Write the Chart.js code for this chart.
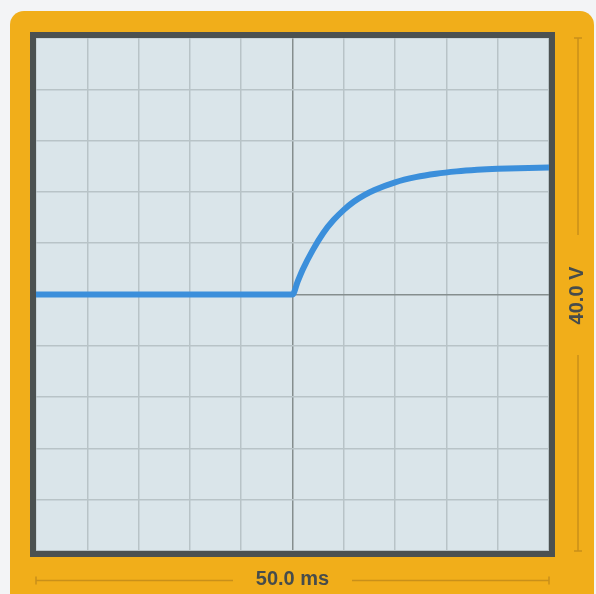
<!DOCTYPE html>
<html>
<head>
<meta charset="utf-8">
<script src="https://cdn.jsdelivr.net/npm/chart.js@4"></script>
<style>
  html, body { margin: 0; padding: 0; background: #f3f4f6; }
  #wrap { position: relative; width: 596px; height: 594px; overflow: hidden; }
  canvas { display: block; }
</style>
</head>
<body>
<div id="wrap"><canvas id="c" width="596" height="594"></canvas></div>
<script>
// Time (ms) and voltage (V)
const timeMs = [-25, -20, -15, -10, -5, 0, 0.5, 1, 2, 3, 4, 5, 6, 7, 8, 10, 12, 14, 16, 18, 20, 22, 25];
const volts  = [0, 0, 0, 0, 0, 0, 1.0, 1.95, 3.5, 4.8, 5.8, 6.6, 7.25, 7.75, 8.15, 8.75, 9.15, 9.42, 9.6, 9.72, 9.8, 9.85, 9.9];
const xRange = [-25, 25];   // 50.0 ms full screen, 5 ms/div
const yRange = [-20, 20];   // 40.0 V full screen, 4 V/div
const xLabel = '50.0 ms';
const yLabel = '40.0 V';

const ORANGE = '#f1ae1a';
const DIM = '#c9901a';
const TEXT = '#464c4c';

const framePlugin = {
  id: 'frame',
  beforeDraw(chart) {
    const ctx = chart.ctx;
    const a = chart.chartArea;
    ctx.save();
    ctx.fillStyle = '#f3f4f6';
    ctx.fillRect(0, 0, chart.width, chart.height);
    ctx.fillStyle = ORANGE;
    ctx.beginPath();
    ctx.roundRect(10, 11, 584, 610, 14);
    ctx.fill();
    ctx.fillStyle = '#dae5ea';
    ctx.fillRect(a.left, a.top, a.right - a.left, a.bottom - a.top);
    ctx.restore();
  },
  afterDraw(chart) {
    const ctx = chart.ctx;
    const a = chart.chartArea;
    ctx.save();
    ctx.strokeStyle = '#4b5151';
    ctx.lineWidth = 6;
    ctx.strokeRect(a.left - 3, a.top - 3, (a.right - a.left) + 6, (a.bottom - a.top) + 6);

    ctx.font = 'bold 20px "Liberation Sans", Arial, sans-serif';
    ctx.fillStyle = TEXT;
    ctx.textAlign = 'center';
    ctx.textBaseline = 'middle';
    ctx.strokeStyle = DIM;
    ctx.lineWidth = 1.5;

    // bottom dimension
    const by = 580.5;
    const cx = (a.left + a.right) / 2;
    ctx.beginPath();
    ctx.moveTo(a.left, by); ctx.lineTo(233, by);
    ctx.moveTo(352, by); ctx.lineTo(a.right, by);
    ctx.moveTo(a.left, by - 4); ctx.lineTo(a.left, by + 4);
    ctx.moveTo(a.right, by - 4); ctx.lineTo(a.right, by + 4);
    ctx.stroke();
    ctx.fillText(xLabel, cx, by - 1.5);

    // right dimension
    const rx = 578;
    const cy = (a.top + a.bottom) / 2;
    ctx.beginPath();
    ctx.moveTo(rx, a.top); ctx.lineTo(rx, 235);
    ctx.moveTo(rx, 355); ctx.lineTo(rx, a.bottom);
    ctx.moveTo(rx - 4, a.top); ctx.lineTo(rx + 4, a.top);
    ctx.moveTo(rx - 4, a.bottom); ctx.lineTo(rx + 4, a.bottom);
    ctx.stroke();
    ctx.translate(rx - 1, cy + 1);
    ctx.rotate(-Math.PI / 2);
    ctx.fillText(yLabel, 0, 0);
    ctx.restore();
  }
};

const gridColor = (ctx) => (ctx.tick && ctx.tick.value === 0) ? '#858e8e' : '#b8c3c7';

new Chart(document.getElementById('c'), {
  type: 'line',
  data: {
    datasets: [{
      data: timeMs.map((t, i) => ({ x: t, y: volts[i] })),
      borderColor: '#3b8fdb',
      borderWidth: 6,
      pointRadius: 0,
      cubicInterpolationMode: 'monotone',
      borderCapStyle: 'round',
      borderJoinStyle: 'round',
      fill: false
    }]
  },
  options: {
    responsive: false,
    animation: false,
    devicePixelRatio: 1,
    layout: { padding: { left: 36, top: 38, right: 47, bottom: 43 } },
    plugins: { legend: { display: false }, tooltip: { enabled: false } },
    scales: {
      x: {
        type: 'linear', min: xRange[0], max: xRange[1],
        ticks: { display: false, stepSize: 5 },
        grid: { color: gridColor, lineWidth: 1.5, drawTicks: false },
        border: { display: false }
      },
      y: {
        type: 'linear', min: yRange[0], max: yRange[1],
        ticks: { display: false, stepSize: 4 },
        grid: { color: gridColor, lineWidth: 1.5, drawTicks: false },
        border: { display: false }
      }
    }
  },
  plugins: [framePlugin]
});
</script>
</body>
</html>
